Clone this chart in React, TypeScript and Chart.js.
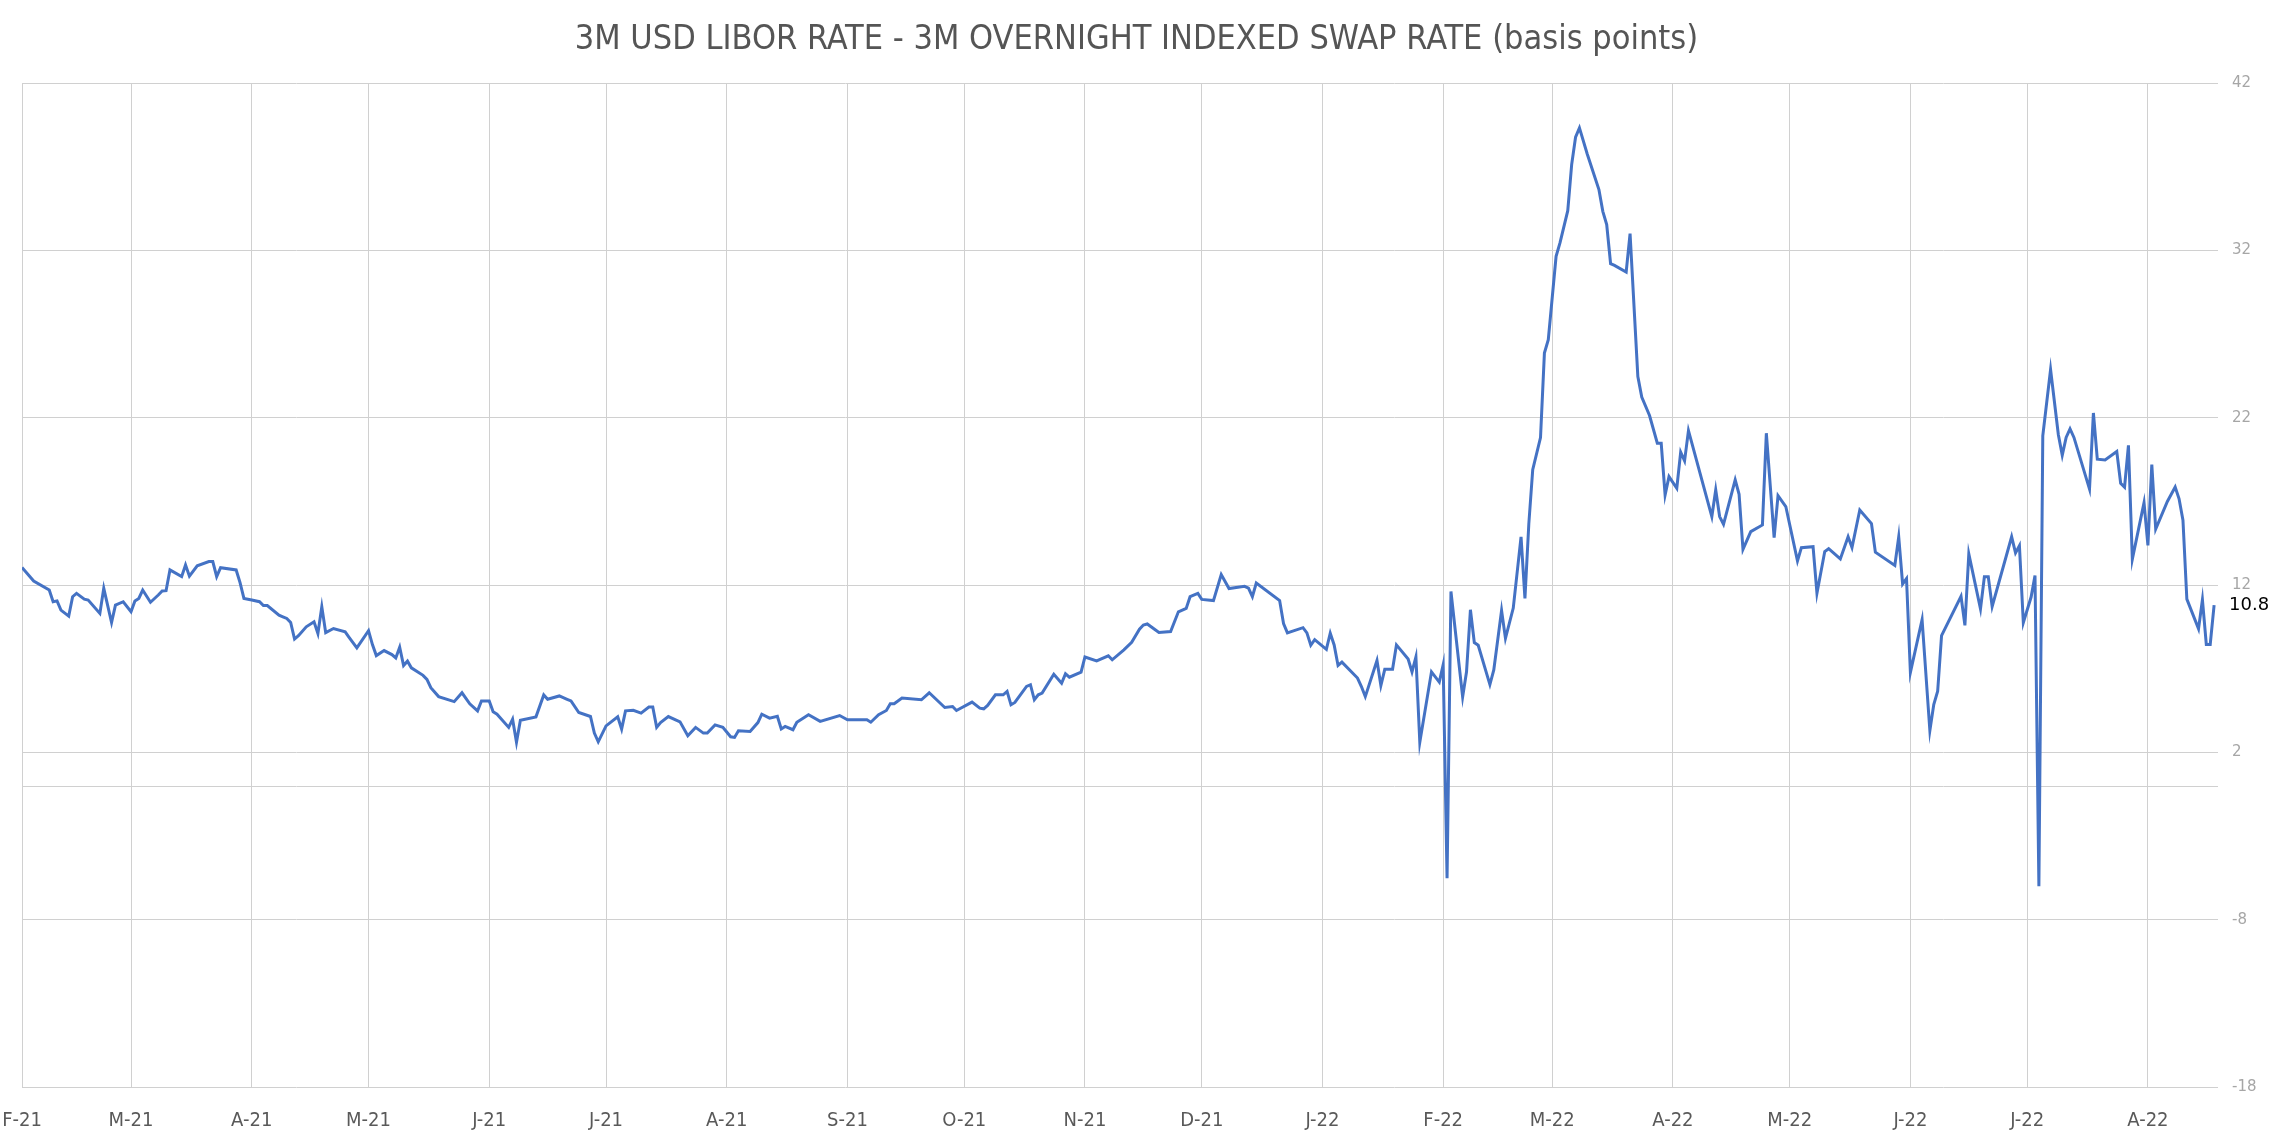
import { useEffect, useRef } from "react";
import { Chart, registerables } from "chart.js";

Chart.register(...registerables);

const TITLE = "3M USD LIBOR RATE - 3M OVERNIGHT INDEXED SWAP RATE (basis points)";

// days since 1 Feb 2021
const days = [
  0, 3, 7, 8, 9, 10, 12, 13, 14, 16, 17, 20, 21, 23, 24, 26, 28, 29, 30, 31,
  33, 35, 36, 37, 38, 41, 42, 43, 45, 48, 49, 50, 51, 55, 56, 57, 59, 61, 62, 63,
  66, 67, 68, 69, 70, 71, 73, 75, 76, 77, 78, 80, 83, 84, 86, 89, 90, 91, 93, 95,
  96, 97, 98, 99, 100, 103, 104, 105, 107, 111, 113, 115, 117, 118, 120, 121, 122, 125, 126, 127,
  128, 132, 134, 135, 138, 140, 141, 143, 146, 147, 148, 150, 153, 154, 155, 157, 159, 161, 162, 163,
  164, 166, 169, 171, 173, 175, 176, 178, 180, 182, 183, 184, 187, 189, 190, 192, 194, 195, 196, 198,
  199, 202, 205, 210, 212, 217, 218, 220, 222, 223, 224, 226, 231, 233, 237, 239, 240, 244, 246, 247,
  248, 250, 252, 253, 254, 255, 258, 259, 260, 261, 262, 265, 267, 268, 269, 272, 273, 276, 279, 280,
  283, 285, 287, 288, 289, 292, 295, 297, 299, 300, 302, 303, 306, 308, 310, 314, 315, 316, 317, 323,
  324, 325, 329, 330, 331, 332, 335, 336, 337, 338, 339, 343, 344, 345, 348, 349, 350, 352, 353, 356,
  357, 358, 359, 362, 364, 365, 366, 367, 370, 371, 372, 373, 374, 377, 378, 380, 381, 383, 385, 386,
  387, 388, 390, 391, 392, 394, 395, 397, 398, 399, 400, 402, 405, 406, 407, 408, 409, 412, 413, 415,
  416, 418, 420, 421, 422, 423, 425, 426, 427, 428, 434, 435, 436, 437, 440, 441, 442, 444, 447, 448,
  450, 451, 453, 456, 457, 460, 461, 463, 464, 467, 469, 470, 472, 475, 476, 481, 482, 483, 484, 485,
  488, 490, 491, 492, 493, 498, 499, 500, 503, 504, 505, 506, 511, 512, 513, 514, 516, 517, 518, 519,
  521, 523, 524, 525, 526, 527, 531, 532, 533, 535, 538, 539, 540, 541, 542, 545, 546, 547, 548, 551,
  553, 554, 555, 556, 559, 560, 561, 562, 563,
];

const values = [
  13.05, 12.24, 11.7, 11.0, 11.05, 10.5, 10.14, 11.3, 11.5, 11.15, 11.1, 10.3, 11.8, 9.76, 10.8, 11.0, 10.4, 11.05, 11.2, 11.7,
  10.97, 11.4, 11.64, 11.66, 12.9, 12.5, 13.2, 12.53, 13.15, 13.4, 13.4, 12.5, 13.03, 12.9, 12.14, 11.2, 11.1, 11.0, 10.77, 10.77,
  10.2, 10.1, 10.0, 9.76, 8.77, 8.97, 9.5, 9.8, 9.1, 10.7, 9.15, 9.4, 9.2, 8.87, 8.24, 9.27, 8.44, 7.78, 8.08, 7.84,
  7.64, 8.28, 7.19, 7.45, 7.05, 6.6, 6.36, 5.86, 5.33, 5.03, 5.56, 4.9, 4.48, 5.07, 5.07, 4.42, 4.28, 3.49, 3.98, 2.6,
  3.92, 4.12, 5.43, 5.17, 5.37, 5.17, 5.07, 4.38, 4.14, 3.15, 2.63, 3.58, 4.12, 3.39, 4.48, 4.51, 4.34, 4.71, 4.71, 3.49,
  3.78, 4.14, 3.82, 2.99, 3.49, 3.15, 3.15, 3.64, 3.49, 2.93, 2.89, 3.29, 3.25, 3.78, 4.28, 4.04, 4.16, 3.4, 3.55, 3.35,
  3.8, 4.25, 3.85, 4.2, 3.95, 3.95, 3.8, 4.25, 4.5, 4.9, 4.9, 5.24, 5.14, 5.56, 4.68, 4.74, 4.5, 5.0, 4.64, 4.6,
  4.8, 5.44, 5.44, 5.64, 4.84, 4.98, 5.94, 6.04, 5.14, 5.44, 5.54, 6.67, 6.13, 6.69, 6.49, 6.79, 7.7, 7.47, 7.77, 7.53,
  8.12, 8.58, 9.36, 9.61, 9.67, 9.16, 9.22, 10.4, 10.6, 11.3, 11.5, 11.14, 11.07, 12.62, 11.79, 11.92, 11.81, 11.3, 12.12, 11.07,
  9.7, 9.14, 9.45, 9.14, 8.4, 8.73, 8.15, 9.12, 8.42, 7.19, 7.39, 6.44, 5.93, 5.33, 7.49, 5.99, 6.96, 6.96, 8.42, 7.58,
  6.81, 7.7, 2.6, 6.81, 6.2, 7.23, -5.53, 11.61, 5.31, 6.81, 10.52, 8.56, 8.4, 6.05, 6.92, 10.48, 8.81, 10.62, 14.88, 11.2,
  15.66, 18.89, 20.81, 25.86, 26.66, 31.64, 32.44, 34.37, 37.12, 38.76, 39.32, 37.76, 35.63, 34.33, 33.54, 31.2, 31.1, 30.7, 33.0, 24.46,
  23.23, 22.13, 20.47, 20.47, 17.38, 18.48, 17.78, 19.94, 19.42, 21.23, 16.09, 17.68, 16.09, 15.63, 18.28, 17.42, 14.13, 15.19, 15.59, 21.07,
  14.83, 17.34, 16.69, 13.44, 14.23, 14.29, 11.5, 14.0, 14.17, 13.56, 14.88, 14.24, 16.48, 15.67, 13.96, 13.17, 14.88, 12.06, 12.38, 6.78,
  9.93, 3.3, 4.86, 5.65, 8.97, 11.32, 9.59, 13.86, 10.57, 12.49, 12.49, 10.72, 14.88, 13.92, 14.35, 9.75, 11.28, 12.56, -6.0, 20.91,
  24.88, 20.98, 19.75, 20.82, 21.33, 20.82, 17.73, 22.28, 19.52, 19.47, 19.98, 18.08, 17.85, 20.35, 13.55, 16.92, 14.37, 19.19, 15.34, 16.99,
  17.85, 17.15, 15.87, 11.16, 9.38, 11.12, 8.45, 8.45, 10.8,
];

const monthStarts = [
  "2021-02-01", "2021-03-01", "2021-04-01", "2021-05-01", "2021-06-01", "2021-07-01", "2021-08-01",
  "2021-09-01", "2021-10-01", "2021-11-01", "2021-12-01", "2022-01-01", "2022-02-01", "2022-03-01",
  "2022-04-01", "2022-05-01", "2022-06-01", "2022-07-01", "2022-08-01",
];
const monthLabels = [
  "F-21", "M-21", "A-21", "M-21", "J-21", "J-21", "A-21", "S-21", "O-21", "N-21",
  "D-21", "J-22", "F-22", "M-22", "A-22", "M-22", "J-22", "J-22", "A-22",
];
const yTicks = [-18, -8, 2, 12, 22, 32, 42];
const LAST_DAY = 564;

const START = Date.UTC(2021, 1, 1);
const dayOf = (iso: string) => Math.round((Date.parse(iso + "T00:00:00Z") - START) / 86400000);
const monthOffsets = monthStarts.map(dayOf);

const GRID = "#d0d0d0";
const NARROW = '"Liberation Sans Narrow", "DejaVu Sans Condensed", "Roboto Condensed", "Noto Sans", sans-serif';

const titlePlugin = {
  id: "titleText",
  afterDraw(chart: any) {
    const ctx = chart.ctx;
    ctx.save();
    ctx.font = `34px ${NARROW}`;
    ctx.fillStyle = "#555555";
    ctx.textAlign = "center";
    ctx.textBaseline = "middle";
    ctx.fillText(TITLE, chart.width / 2, 40);
    ctx.restore();
  },
};

const zeroLinePlugin = {
  id: "zeroLine",
  beforeDatasetsDraw(chart: any) {
    const { ctx, chartArea } = chart;
    const y = Math.round(chart.scales.y.getPixelForValue(0)) + 0.5;
    ctx.save();
    ctx.strokeStyle = GRID;
    ctx.lineWidth = 1;
    ctx.beginPath();
    ctx.moveTo(chartArea.left, y);
    ctx.lineTo(chartArea.right, y);
    ctx.stroke();
    ctx.restore();
  },
};

const lastLabelPlugin = {
  id: "lastLabel",
  afterDatasetsDraw(chart: any) {
    const { ctx, chartArea } = chart;
    const last = values[values.length - 1];
    const y = chart.scales.y.getPixelForValue(last);
    ctx.save();
    ctx.font = `500 18px "DejaVu Sans", sans-serif`;
    ctx.fillStyle = "#000000";
    ctx.textAlign = "left";
    ctx.textBaseline = "middle";
    ctx.fillText(last.toFixed(1), chartArea.right + 11, y);
    ctx.restore();
  },
};

export default function App() {
  const ref = useRef<HTMLCanvasElement | null>(null);

  useEffect(() => {
    if (!ref.current) return;
    const chart = new Chart(ref.current, {
      type: "line",
      data: {
        datasets: [
          {
            data: days.map((d, i) => ({ x: d, y: values[i] })),
            borderColor: "#4472C4",
            borderWidth: 3,
            pointRadius: 0,
            tension: 0,
            fill: false,
          },
        ],
      },
      options: {
        animation: false,
        responsive: true,
        maintainAspectRatio: false,
        devicePixelRatio: 1,
        layout: { padding: { top: 83, left: 22, right: 0, bottom: 0 } },
        plugins: { legend: { display: false }, title: { display: false }, tooltip: { enabled: false } },
        scales: {
          x: {
            type: "linear",
            min: 0,
            max: LAST_DAY,
            afterBuildTicks: (scale: any) => {
              scale.ticks = monthOffsets.map((v) => ({ value: v }));
            },
            afterFit: (scale: any) => {
              scale.height = 52;
              scale.paddingLeft = 0;
              scale.paddingRight = 0;
            },
            ticks: {
              autoSkip: false,
              maxRotation: 0,
              minRotation: 0,
              padding: 22,
              color: "#595959",
              font: { family: NARROW, size: 20 },
              callback: (_v: any, i: number) => monthLabels[i],
            },
            grid: { color: GRID, lineWidth: 1, drawTicks: false },
            border: { display: false },
          },
          y: {
            type: "linear",
            position: "right",
            min: -18,
            max: 42,
            afterBuildTicks: (scale: any) => {
              scale.ticks = yTicks.map((v) => ({ value: v }));
            },
            afterFit: (scale: any) => {
              scale.width = 55;
              scale.paddingTop = 0;
              scale.paddingBottom = 0;
            },
            ticks: {
              padding: 14,
              color: "#a6a6a6",
              font: { family: '"DejaVu Sans", sans-serif', size: 15 },
              callback: (v: any) => String(v),
            },
            grid: { color: GRID, lineWidth: 1, drawTicks: false },
            border: { display: false },
          },
        },
      },
      plugins: [zeroLinePlugin, lastLabelPlugin, titlePlugin],
    });
    return () => chart.destroy();
  }, []);

  return (
    <div style={{ position: "fixed", left: 0, top: 0, width: 2273, height: 1139, background: "#fff" }}>
      <canvas ref={ref} />
    </div>
  );
}
